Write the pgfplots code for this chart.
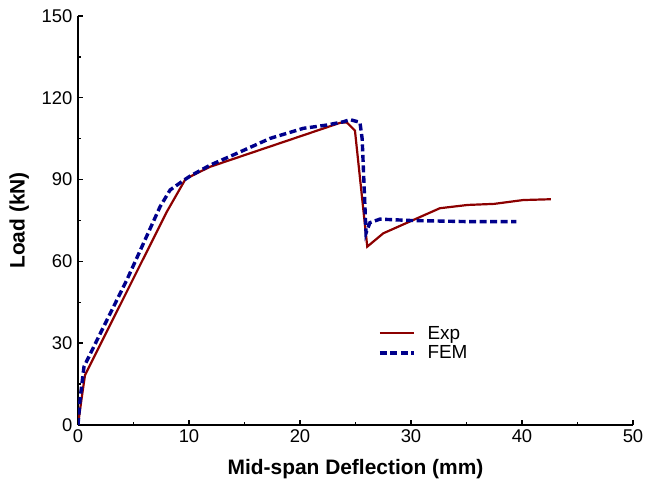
\documentclass[border=0pt]{standalone}
\usepackage{pgfplots}
\pgfplotsset{compat=1.18}
\usepackage{fontspec}
\setmainfont{Liberation Sans}
\definecolor{expred}{RGB}{140,0,0}
\definecolor{femblue}{RGB}{0,0,140}

\begin{document}
\begin{tikzpicture}
\useasboundingbox (0,0) rectangle (646bp,484bp);
\begin{axis}[
    at={(78bp,59bp)}, anchor=south west,
    scale only axis,
    width=555bp, height=409bp,
    xmin=0, xmax=50, ymin=0, ymax=150,
    xtick={0,10,...,50}, ytick={0,30,...,150},
    minor x tick num=1, minor y tick num=1,
    axis lines*=left,
    axis line style={-, line width=1.4bp},
    tick style={black, line width=1.4bp},
    major tick length=5bp, minor tick length=3bp,
    tick align=inside,
    /pgf/number format/assume math mode=true,
    ticklabel style={font=\fontsize{18.5}{22}\selectfont},
    yticklabel style={xshift=-2bp},
    xticklabel style={yshift=-1bp},
    xlabel={\textbf{Mid-span Deflection (mm)}},
    ylabel={\textbf{Load (kN)}},
    label style={font=\fontsize{21}{24}\selectfont},
    xlabel style={at={(axis description cs:0.5,-0.107)}, anchor=center},
    ylabel style={at={(axis description cs:-0.106,0.5)}, anchor=center, rotate=0},
    legend style={draw=none, fill=none, at={(0.535,0.252)}, anchor=north west,
        font=\fontsize{19}{22}\selectfont, row sep=1bp,
        nodes={inner xsep=5bp}},
    legend cell align=left,
    legend image code/.code={\draw[#1] (0bp,0bp) -- (34bp,0bp); \path (41bp,0bp);},
]
\addplot[color=expred, line width=2.2bp] coordinates {
    (0,0)(0.3,9)(0.63,18.3)(8.0,78.2)(9.7,90.3)(11.9,94.7)(23.6,110.8)(24.2,111)
    (24.95,108)(26.06,65.4)(27.5,70.3)(32.6,79.5)(35.1,80.7)(37.5,81.1)(40.1,82.5)(42.6,82.8)
};
\addplot[color=femblue, line width=3.4bp, dash pattern=on 7bp off 3.5bp] coordinates {
    (0,0)(0.2,10)(0.54,21.4)(2.0,33.5)(4.4,53.2)(7.4,80.1)(8.3,86.2)(9.2,88.8)(10.1,91.3)
    (11.9,95.3)(14.3,99.6)(17.3,105.1)(20.3,108.8)(22.4,110)(23.9,111.2)(24.5,112)
    (25.4,111)(25.6,105)(25.95,70.4)(26.3,74.2)(27.2,75.5)(30,75)(35,74.6)(39.5,74.6)
};
\legend{Exp, FEM}
\end{axis}
\end{tikzpicture}
\end{document}
